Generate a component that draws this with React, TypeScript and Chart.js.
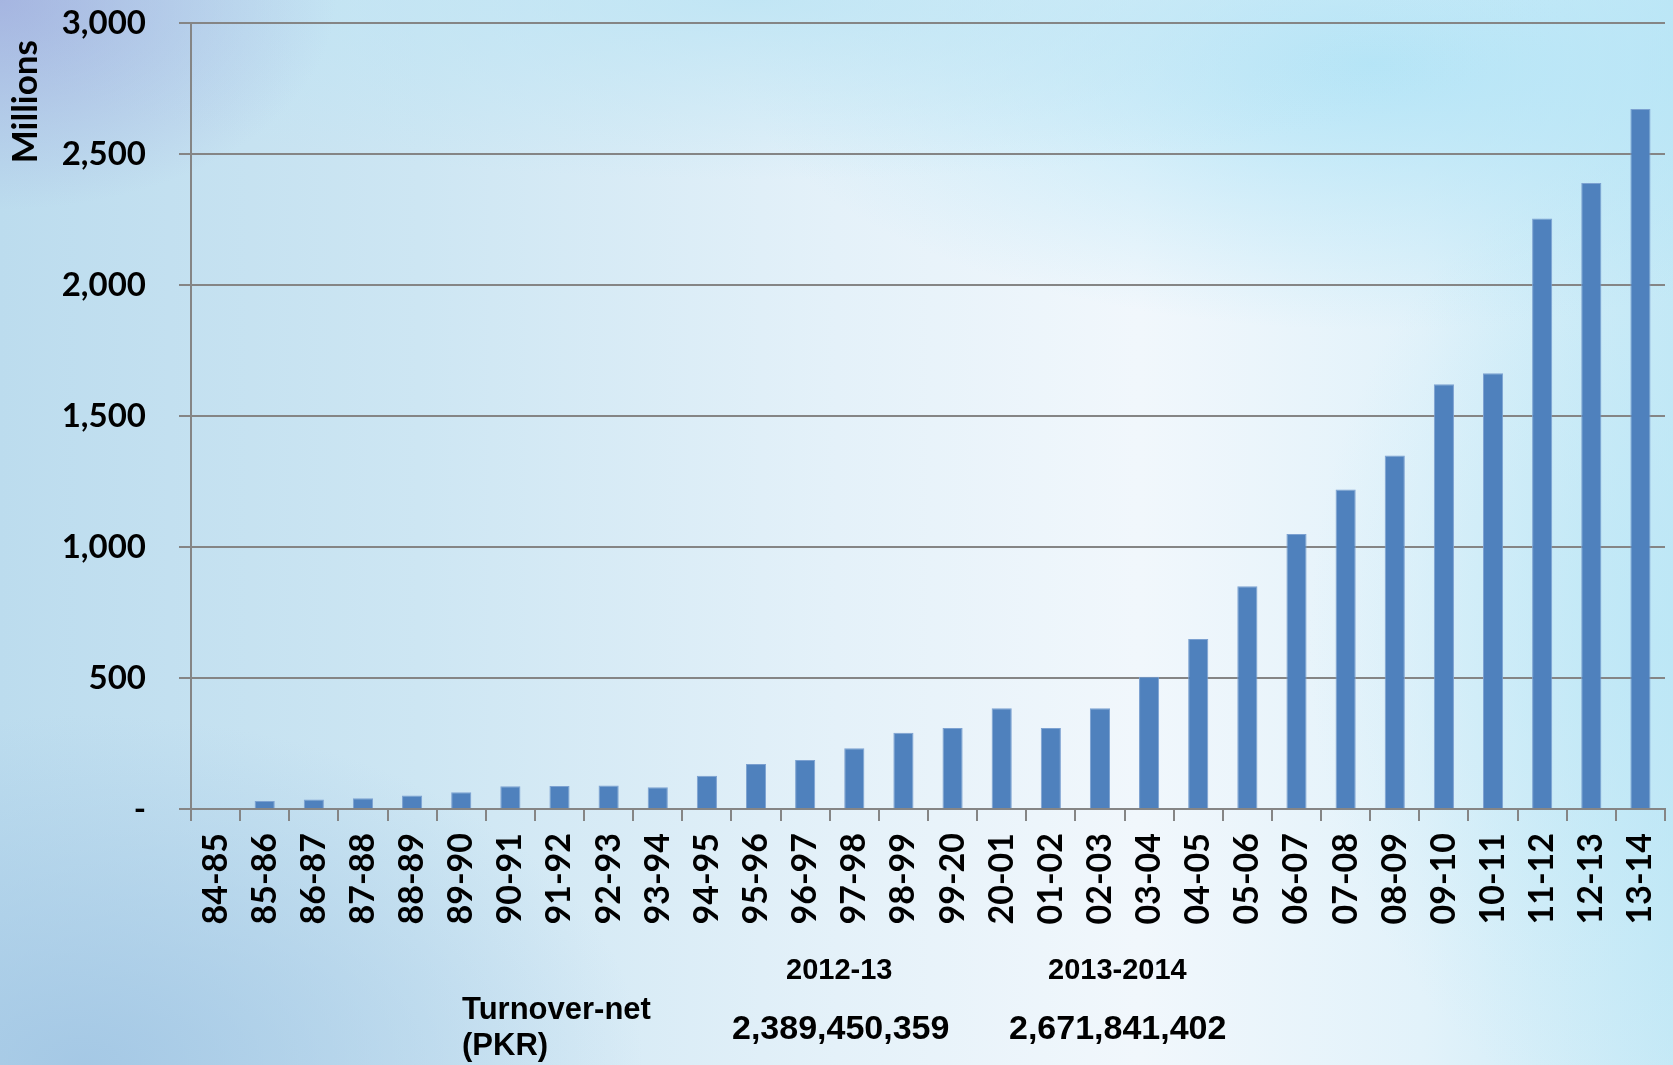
import React, { useEffect, useRef } from 'react';
import { Chart, registerables } from 'chart.js';

Chart.register(...registerables);

const categories = [
  '84-85', '85-86', '86-87', '87-88', '88-89', '89-90', '90-91', '91-92', '92-93', '93-94',
  '94-95', '95-96', '96-97', '97-98', '98-99', '99-20', '20-01', '01-02', '02-03', '03-04',
  '04-05', '05-06', '06-07', '07-08', '08-09', '09-10', '10-11', '11-12', '12-13', '13-14',
];

const turnoverMillions = [
  0, 31, 36, 41, 52, 64, 87, 88, 90, 83,
  127, 172, 187, 232, 291, 309, 385, 309, 385, 505,
  649, 850, 1050, 1219, 1349, 1621, 1663, 2254, 2389, 2672,
];

const yTickValues = [0, 500, 1000, 1500, 2000, 2500, 3000];

const tableYears = ['2012-13', '2013-2014'];
const tableValues = ['2,389,450,359', '2,671,841,402'];
const tableRowLabel = ['Turnover-net', '(PKR)'];

const AXIS_GRAY = '#858585';
const CHART_FONT = 'Lato, "Liberation Sans", sans-serif';
const TABLE_FONT = '"Liberation Sans", Arial, sans-serif';

export default function App() {
  const canvasRef = useRef<HTMLCanvasElement>(null);

  useEffect(() => {
    const canvas = canvasRef.current;
    if (!canvas) return;
    const chart = new Chart(canvas, {
      type: 'bar',
      data: {
        labels: categories,
        datasets: [
          {
            data: turnoverMillions,
            backgroundColor: '#4f81bd',
            borderColor: '#7ca1d1',
            borderWidth: { top: 1, left: 1, right: 1, bottom: 0 },
            barPercentage: 0.41,
            categoryPercentage: 1,
          },
        ],
      },
      options: {
        responsive: false,
        maintainAspectRatio: false,
        animation: false,
        layout: { padding: { left: 0, top: 23, right: 8, bottom: 0 } },
        plugins: {
          legend: { display: false },
          tooltip: { enabled: false },
        },
        scales: {
          x: {
            grid: {
              display: true,
              drawOnChartArea: false,
              drawTicks: true,
              tickLength: 12,
              color: AXIS_GRAY,
              lineWidth: 2,
              offset: true,
            },
            border: { display: true, color: AXIS_GRAY, width: 2 },
            ticks: {
              minRotation: 90,
              maxRotation: 90,
              autoSkip: false,
              padding: 12,
              color: '#000',
              font: { family: CHART_FONT, size: 34, weight: 'bold' },
            },
            afterFit: (scale: any) => {
              scale.height = 256;
              scale.paddingLeft = 0;
              scale.paddingRight = 0;
            },
          },
          y: {
            min: 0,
            max: 3000,
            afterBuildTicks: (scale: any) => {
              scale.ticks = yTickValues.map((v) => ({ value: v }));
            },
            ticks: {
              padding: 33,
              color: '#000',
              font: { family: CHART_FONT, size: 33, weight: 'bold' },
              callback: (v: any) => (Number(v) === 0 ? '-' : Number(v).toLocaleString('en-US')),
            },
            grid: {
              color: AXIS_GRAY,
              lineWidth: 2,
              tickLength: 12,
              drawTicks: true,
            },
            border: { display: true, color: AXIS_GRAY, width: 2 },
            title: {
              display: true,
              text: 'Millions  ',
              align: 'end',
              color: '#000',
              font: { family: CHART_FONT, size: 35, weight: 'bold' },
              padding: { top: 5, bottom: 4 },
            },
            afterFit: (scale: any) => {
              scale.width = 191;
              scale.paddingTop = 10;
              scale.paddingBottom = 10;
            },
          },
        },
      },
    });
    return () => chart.destroy();
  }, []);

  const bg = [
    'radial-gradient(ellipse 480px 300px at 0% 0%, rgba(158,168,220,0.75), rgba(158,168,220,0) 70%)',
    'radial-gradient(ellipse 1100px 240px at 45% 0%, rgba(188,228,244,0.85), rgba(188,228,244,0) 75%)',
    'radial-gradient(ellipse 900px 380px at 82% 6%, rgba(172,226,246,0.85), rgba(172,226,246,0) 70%)',
    'radial-gradient(ellipse 520px 700px at 100% 60%, rgba(185,230,246,0.7), rgba(185,230,246,0) 70%)',
    'radial-gradient(ellipse 800px 500px at 5% 100%, rgba(162,198,228,0.9), rgba(162,198,228,0) 70%)',
    'linear-gradient(to right, #bcdcee 0%, #cde6f3 25%, #e4f1f9 50%, #f1f7fc 68%, #e2f2fa 85%, #c6e9f6 100%)',
  ].join(', ');

  const textBase: React.CSSProperties = {
    position: 'absolute',
    fontFamily: TABLE_FONT,
    fontWeight: 'bold',
    lineHeight: 1,
    color: '#000',
    whiteSpace: 'nowrap',
    margin: 0,
  };

  return (
    <div
      style={{
        position: 'fixed',
        left: 0,
        top: 0,
        width: 1673,
        height: 1065,
        overflow: 'hidden',
        background: bg,
      }}
    >
      <canvas
        ref={canvasRef}
        width={1673}
        height={1065}
        style={{ position: 'absolute', left: 0, top: 0, width: 1673, height: 1065, display: 'block' }}
      />
      <div style={{ ...textBase, left: 786, top: 955, fontSize: 29 }}>{tableYears[0]}</div>
      <div style={{ ...textBase, left: 1048, top: 955, fontSize: 29 }}>{tableYears[1]}</div>
      <div style={{ ...textBase, left: 462, top: 993, fontSize: 31 }}>{tableRowLabel[0]}</div>
      <div style={{ ...textBase, left: 462, top: 1029, fontSize: 31 }}>{tableRowLabel[1]}</div>
      <div style={{ ...textBase, left: 732, top: 1010, fontSize: 34 }}>{tableValues[0]}</div>
      <div style={{ ...textBase, left: 1009, top: 1010, fontSize: 34 }}>{tableValues[1]}</div>
    </div>
  );
}
